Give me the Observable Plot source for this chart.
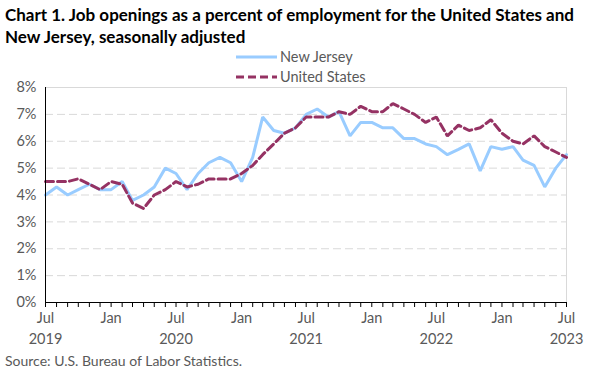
<!DOCTYPE html>
<html><head><meta charset="utf-8">
<script src="https://cdn.jsdelivr.net/npm/d3@7"></script>
<script src="https://cdn.jsdelivr.net/npm/@observablehq/plot@0.6"></script>
<style>body{margin:0;background:#fff}</style>
</head><body><div id="chart"></div>
<script>
const months = [
  "2019-07","2019-08","2019-09","2019-10","2019-11","2019-12",
  "2020-01","2020-02","2020-03","2020-04","2020-05","2020-06","2020-07","2020-08","2020-09","2020-10","2020-11","2020-12",
  "2021-01","2021-02","2021-03","2021-04","2021-05","2021-06","2021-07","2021-08","2021-09","2021-10","2021-11","2021-12",
  "2022-01","2022-02","2022-03","2022-04","2022-05","2022-06","2022-07","2022-08","2022-09","2022-10","2022-11","2022-12",
  "2023-01","2023-02","2023-03","2023-04","2023-05","2023-06","2023-07"
];
const newJersey = [
  4.0,4.3,4.0,4.2,4.4,4.2,
  4.2,4.5,3.8,4.0,4.3,5.0,4.8,4.2,4.8,5.2,5.4,5.2,
  4.5,5.4,6.9,6.4,6.3,6.5,7.0,7.2,6.9,7.1,6.2,6.7,
  6.7,6.5,6.5,6.1,6.1,5.9,5.8,5.5,5.7,5.9,4.9,5.8,
  5.7,5.8,5.3,5.1,4.3,5.0,5.5
];
const unitedStates = [
  4.5,4.5,4.5,4.6,4.4,4.2,
  4.5,4.4,3.7,3.5,4.0,4.2,4.5,4.3,4.4,4.6,4.6,4.6,
  4.8,5.1,5.5,5.9,6.3,6.5,6.9,6.9,6.9,7.1,7.0,7.3,
  7.1,7.1,7.4,7.2,7.0,6.7,6.9,6.2,6.6,6.4,6.5,6.8,
  6.3,6.0,5.9,6.2,5.8,5.6,5.4
];
const yTicks = [0,1,2,3,4,5,6,7,8];
const gridTicks = [1,2,3,4,5,6,7];
const labelMonths = ["2019-07","2020-01","2020-07","2021-01","2021-07","2022-01","2022-07","2023-01","2023-07"];
const monthNames = {"01":"Jan","07":"Jul"};

const parse = s => new Date(s + "-01T00:00:00Z");
const dates = months.map(parse);
const nj = dates.map((d,i) => ({date:d, value:newJersey[i]}));
const us = dates.map((d,i) => ({date:d, value:unitedStates[i]}));
const labelDates = labelMonths.map(parse);
const yearDates = labelMonths.filter(m => m.endsWith("-07")).map(parse);
const x0 = dates[0], x1 = dates[dates.length-1];

const NJ_COLOR = "#99CCFF";
const US_COLOR = "#953263";
const TEXT = "#595959";
const AXIS_FS = 14.5;

const chart = Plot.plot({
  width: 600, height: 375,
  marginLeft: 45, marginRight: 34, marginTop: 87, marginBottom: 73,
  style: {fontFamily: "Lato, sans-serif", fontSize: "14px", color: TEXT, background: "#fff", overflow: "visible"},
  x: {type: "utc", domain: [x0, x1]},
  y: {domain: [0, 8]},
  marks: [
    Plot.ruleY(gridTicks, {stroke: "#d9d9d9", strokeWidth: 1, strokeDasharray: "8,4"}),
    Plot.ruleY([8], {stroke: "#d9d9d9", strokeWidth: 1}),
    Plot.ruleX([x1], {stroke: "#d9d9d9", strokeWidth: 1}),
    Plot.axisY({ticks: yTicks, tickFormat: d => d + "%", tickSize: 0, tickPadding: 9, fontSize: AXIS_FS, fill: TEXT, label: null}),
    Plot.axisX({ticks: dates, tickFormat: () => "", tickSize: 5, stroke: "#000", strokeWidth: 1, label: null}),
    Plot.axisX({ticks: labelDates, tickFormat: d => monthNames[String(d.getUTCMonth()+1).padStart(2,"0")], tickSize: 0, tickPadding: 10, fontSize: AXIS_FS, fill: TEXT, label: null}),
    Plot.axisX({ticks: yearDates, tickFormat: d => String(d.getUTCFullYear()), tickSize: 0, tickPadding: 31, fontSize: AXIS_FS, fill: TEXT, label: null}),
    Plot.line(nj, {x: "date", y: "value", stroke: NJ_COLOR, strokeWidth: 3, strokeLinejoin: "miter"}),
    Plot.line(us, {x: "date", y: "value", stroke: US_COLOR, strokeWidth: 3, strokeDasharray: "8,4", strokeLinejoin: "miter"}),
    Plot.ruleY([0], {stroke: "#000", strokeWidth: 1}),
    Plot.ruleX([x0], {stroke: "#000", strokeWidth: 1})
  ]
});

const svg = d3.select(chart);
const font = "Lato, sans-serif";
const addText = (x, y, size, weight, fill, str) =>
  svg.append("text").attr("x", x).attr("y", y).attr("text-anchor", "start")
    .attr("font-family", font).attr("font-size", size).attr("font-weight", weight).attr("fill", fill).text(str);
addText(5, 21, 17, "bold", "#000", "Chart 1. Job openings as a percent of employment for the United States and");
addText(5, 43, 17, "bold", "#000", "New Jersey, seasonally adjusted");
// legend
const leg = [
  {name: "New Jersey", color: NJ_COLOR, dash: null, y: 57},
  {name: "United States", color: US_COLOR, dash: "8,4", y: 77}
];
leg.forEach(l => {
  svg.append("line").attr("x1", 236).attr("x2", 277).attr("y1", l.y).attr("y2", l.y)
    .attr("stroke", l.color).attr("stroke-width", 3).attr("stroke-dasharray", l.dash);
  addText(280, l.y + 5, 14.5, "normal", TEXT, l.name);
});
addText(5, 366, 14, "normal", TEXT, "Source: U.S. Bureau of Labor Statistics.");

document.getElementById("chart").appendChild(chart);
</script>
</body></html>
